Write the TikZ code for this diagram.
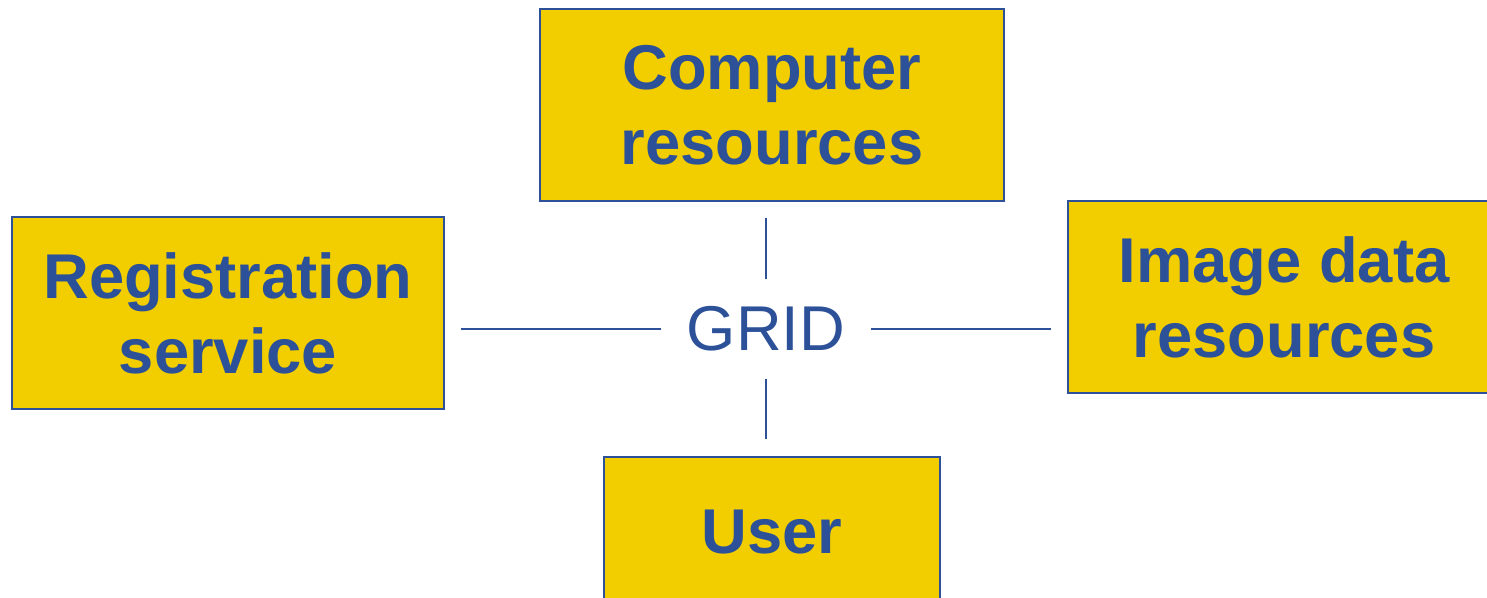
\documentclass[tikz,border=0pt]{standalone}
\usepackage{fontspec}
\setmainfont{Liberation Sans}
\usepackage{xcolor}
\definecolor{gridblue}{HTML}{2C5198}
\definecolor{gridyellow}{HTML}{F2CE00}

\tikzset{
    resbox/.style={draw=gridblue, line width=0.7pt, fill=gridyellow, text=gridblue,
        font=\fontsize{18}{21.3}\selectfont\bfseries, align=center, inner sep=0pt},
    link/.style={draw=gridblue, line width=0.6pt}
}

\begin{document}
\begin{tikzpicture}[x=0.01cm, y=-0.01cm]
    \useasboundingbox (0,0) rectangle (1487,598);

    \node[resbox, minimum width=4.64cm, minimum height=1.92cm] (comp) at (772,105) {Computer\\resources};
    \node[resbox, minimum width=4.32cm, minimum height=1.92cm] (reg) at (228,313) {Registration\\service};
    \node[resbox, minimum width=4.32cm, minimum height=1.92cm] (img) at (1284,297) {Image data\\resources};
    \node[resbox, minimum width=3.36cm, minimum height=1.5cm] (user) at (772,532) {User};

    \node[text=gridblue, font=\fontsize{18}{21.3}\selectfont, minimum width=2.08cm, minimum height=0.98cm, inner sep=0pt] (grid) at (766,329) {GRID};

    \draw[link, shorten >=0.16cm] (grid.north) -- (grid.north |- comp.south);
    \draw[link, shorten >=0.17cm] (grid.south) -- (grid.south |- user.north);
    \draw[link, shorten >=0.16cm] (grid.west) -- (grid.west -| reg.east);
    \draw[link, shorten >=0.16cm] (grid.east) -- (grid.east -| img.west);
\end{tikzpicture}
\end{document}
